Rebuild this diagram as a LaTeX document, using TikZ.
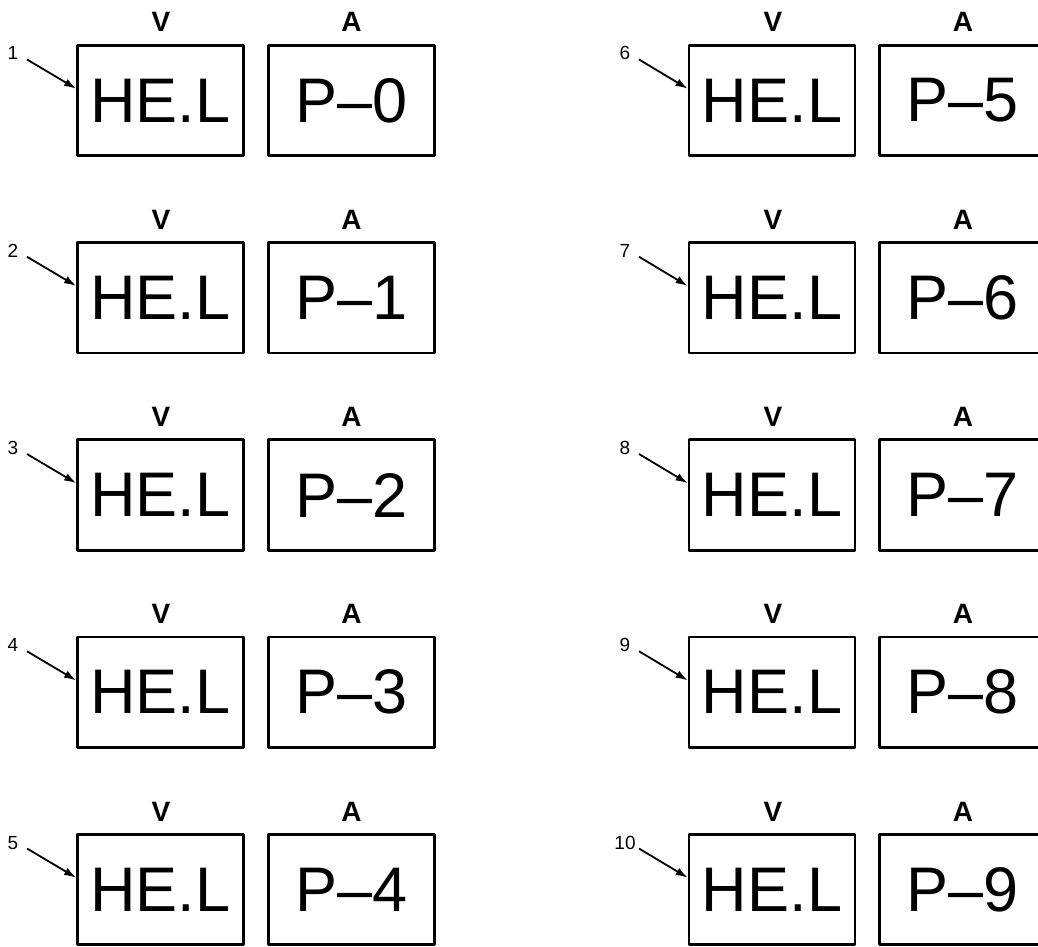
\documentclass[tikz,border=0pt]{standalone}
\usepackage{fontspec}
\setmainfont{Liberation Sans}
\usetikzlibrary{arrows.meta}
\tikzset{
  box/.style={draw, line width=2.8pt, line join=round, minimum width=166pt,
    minimum height=110.5pt, inner sep=0pt, font=\fontsize{63}{63}\selectfont},
  hdr/.style={anchor=base, inner sep=0pt, font=\bfseries\fontsize{28}{28}\selectfont},
  num/.style={anchor=base, inner sep=0pt, font=\fontsize{19}{19}\selectfont},
  pointer/.style={line width=1.8pt, -{Latex[length=12pt,width=8pt]}}
}
\begin{document}
\begin{tikzpicture}[x=1pt,y=-1pt]
\useasboundingbox (0,0) rectangle (1038,947);
\foreach \i in {0,...,4}{
  \pgfmathsetmacro\cy{100.5+197.25*\i}
  \pgfmathtruncatemacro\nl{\i+1}
  \pgfmathtruncatemacro\nr{\i+6}
  \pgfmathtruncatemacro\pr{\i+5}
  % left group
  \node[box] (vl\i) at (160.5,\cy) {HE.L};
  \node[box] (al\i) at (351.5,\cy) {P\textendash\i};
  \node[hdr] (hvl\i) at (161,\cy-68.5) {V};
  \node[hdr] (hal\i) at (351.5,\cy-68.5) {A};
  \node[num] (nl\i) at (13,\cy-40.5) {\nl};
  \coordinate (sl\i) at (27,\cy-41);
  \draw[pointer] (sl\i) -- (vl\i.172);
  % right group
  \node[box] (vr\i) at (772,\cy) {HE.L};
  \node[box] (ar\i) at (962.5,\cy) {P\textendash\pr};
  \node[hdr] (hvr\i) at (773,\cy-68.5) {V};
  \node[hdr] (har\i) at (963,\cy-68.5) {A};
  \node[num] (nr\i) at (625,\cy-40.5) {\nr};
  \coordinate (sr\i) at (639,\cy-41);
  \draw[pointer] (sr\i) -- (vr\i.172);
}
\end{tikzpicture}
\end{document}
